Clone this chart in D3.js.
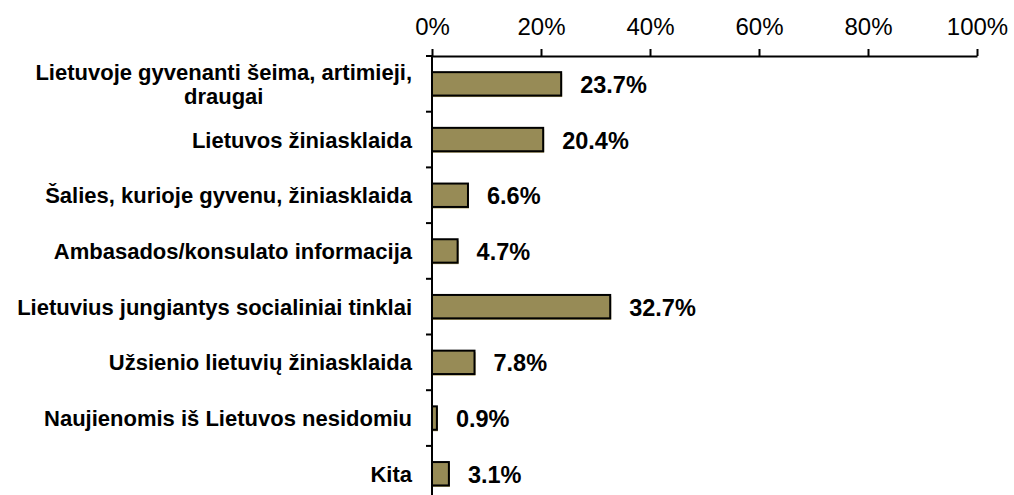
<!DOCTYPE html>
<html>
<head>
<meta charset="utf-8">
<script src="https://cdn.jsdelivr.net/npm/d3@7"></script>
<style>
  html, body { margin: 0; padding: 0; background: #fff; }
  svg { display: block; }
  text { font-family: Arial, "Liberation Sans", sans-serif; fill: #000; }
</style>
</head>
<body>
<svg id="chart" width="1014" height="495"></svg>
<script>
const categories = [
  ["Lietuvoje gyvenanti šeima, artimieji,", "draugai"],
  ["Lietuvos žiniasklaida"],
  ["Šalies, kurioje gyvenu, žiniasklaida"],
  ["Ambasados/konsulato informacija"],
  ["Lietuvius jungiantys socialiniai tinklai"],
  ["Užsienio lietuvių žiniasklaida"],
  ["Naujienomis iš Lietuvos nesidomiu"],
  ["Kita"]
];
const values = [23.7, 20.4, 6.6, 4.7, 32.7, 7.8, 0.9, 3.1];
const tickValues = [0, 20, 40, 60, 80, 100];

const svg = d3.select("#chart");
const keys = categories.map((c, i) => i);

const x = d3.scaleLinear().domain([0, 100]).range([432, 977]);
const y = d3.scaleBand().domain(keys).range([56, 56 + 8 * 55.7])
  .paddingInner(0.58).paddingOuter(0.29);

// top axis
const xAxis = d3.axisTop(x).tickValues(tickValues).tickFormat(d => d + "%")
  .tickSizeInner(7).tickSizeOuter(0).tickPadding(14);
const gx = svg.append("g").attr("transform", "translate(0,56)").call(xAxis);
gx.select(".domain").attr("stroke", "#000").attr("stroke-width", 2);
gx.selectAll(".tick line").attr("stroke", "#000").attr("stroke-width", 2);
gx.selectAll(".tick text").attr("font-size", 24).attr("font-family", "Arial, 'Liberation Sans', sans-serif").attr("fill", "#000");

// left axis line and category boundary ticks
const step = y.step();
const bounds = d3.range(0, 8).map(k => y.range()[0] + k * step);
svg.append("line").attr("x1", 432).attr("x2", 432).attr("y1", 55).attr("y2", 495)
  .attr("stroke", "#000").attr("stroke-width", 2);
svg.selectAll(".ytick").data(bounds).join("line").attr("class", "ytick")
  .attr("x1", 426).attr("x2", 432).attr("y1", d => d).attr("y2", d => d)
  .attr("stroke", "#000").attr("stroke-width", 2);

// bars: shadow + main
svg.selectAll(".shadow").data(values).join("rect").attr("class", "shadow")
  .attr("x", x(0) + 1).attr("y", (d, i) => y(i) + 1.5)
  .attr("width", d => x(d) - x(0)).attr("height", y.bandwidth())
  .attr("fill", "#a89a5e");
svg.selectAll(".bar").data(values).join("rect").attr("class", "bar")
  .attr("x", x(0)).attr("y", (d, i) => y(i))
  .attr("width", d => x(d) - x(0)).attr("height", y.bandwidth())
  .attr("fill", "#978b56").attr("stroke", "#000").attr("stroke-width", 2);

// value labels
svg.selectAll(".val").data(values).join("text").attr("class", "val")
  .attr("x", d => x(d) + 19)
  .attr("y", (d, i) => y(i) + y.bandwidth() / 2 + 9)
  .attr("font-size", 23.5).attr("font-weight", "bold")
  .text(d => d.toFixed(1) + "%");

// category labels
const labelRight = 412;
categories.forEach((lines, i) => {
  const cy = y(i) + y.bandwidth() / 2;
  const g = svg.append("g");
  const lh = 24;
  const t = g.append("text").attr("font-size", 22).attr("font-weight", "bold");
  lines.forEach((ln, j) => {
    t.append("tspan").attr("x", 0)
      .attr("y", cy + 8 + (j - (lines.length - 1) / 2) * lh)
      .text(ln);
  });
  const widths = [];
  t.selectAll("tspan").each(function() { widths.push(this.getComputedTextLength()); });
  const maxW = d3.max(widths);
  t.attr("text-anchor", "middle");
  t.selectAll("tspan").attr("x", labelRight - maxW / 2);
});
</script>
</body>
</html>
